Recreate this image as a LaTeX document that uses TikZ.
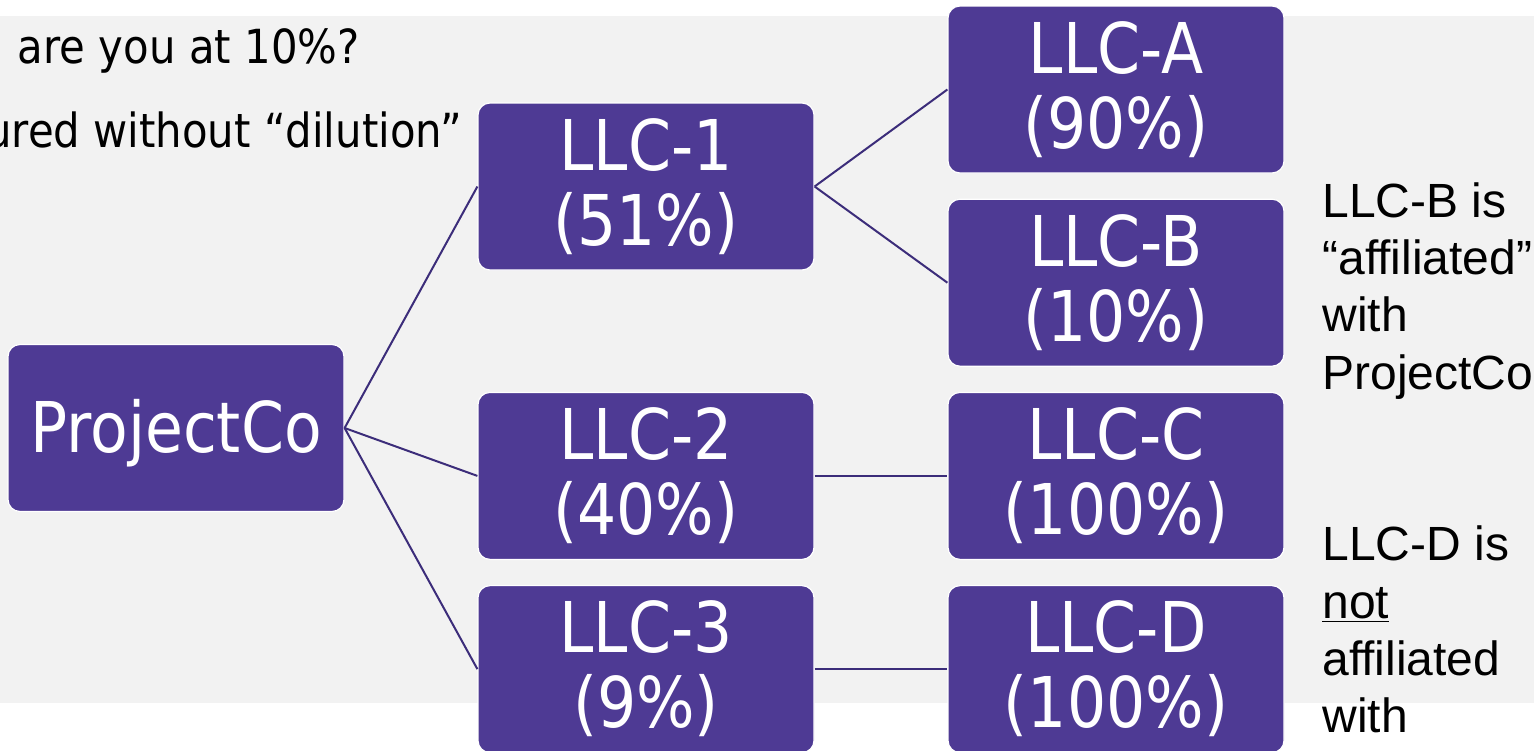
\documentclass[tikz,border=0pt]{standalone}
\usepackage{fontspec}
\setmainfont{DejaVu Sans}
\newfontfamily\boxfont[FakeStretch=0.88]{DejaVu Sans}
\newfontfamily\notefont[FakeStretch=0.89]{DejaVu Sans}
\newfontfamily\sidefont{Liberation Sans}
\usetikzlibrary{positioning}
\definecolor{boxpurple}{RGB}{78,58,148}
\definecolor{linkpurple}{RGB}{60,45,122}
\definecolor{slidegray}{RGB}{242,242,242}
\begin{document}
\begin{tikzpicture}[x=0.5pt, y=-0.5pt, node distance={12.5pt and 66.4pt},
  main/.style = {draw=white, line width=0.6pt, fill=boxpurple, rounded corners=6pt,
    minimum width=168pt, minimum height=83.5pt, inner sep=0pt, text=white, align=center,
    font=\boxfont\fontsize{35pt}{37.5pt}\selectfont, execute at begin node={\rule{0pt}{0.9em}}},
  note/.style = {inner sep=0pt, font=\notefont\fontsize{23.5pt}{28pt}\selectfont},
  link/.style = {draw=linkpurple, line width=1pt}]
\useasboundingbox (0,0) rectangle (1534,750);
\clip (0,0) rectangle (1534,750);
\fill[slidegray] (0,16) rectangle (1534,703);
\node[note, anchor=base east] (q1) at (360,63) {are you at 10\%?};
\node[note, anchor=base east] (q2) at (462,147) {ured without “dilution”};
\node[main] (pc) at (176,428) {ProjectCo};
\node[main] (la) at (1116,89.5) {LLC-A\\(90\%)};
\node[main] (lb) [below=of la] {LLC-B\\(10\%)};
\node[main] (lc) [below=of lb] {LLC-C\\(100\%)};
\node[main] (ld) [below=of lc] {LLC-D\\(100\%)};
\node[main] (l1) at (646,186.5) {LLC-1\\(51\%)};
\node[main] (l2) [left=of lc] {LLC-2\\(40\%)};
\node[main] (l3) [left=of ld] {LLC-3\\(9\%)};
\node[anchor=north west, inner sep=0pt, align=left, font=\sidefont\fontsize{24pt}{28.65pt}\selectfont] (side) at (1322,182)
  {LLC-B is\\“affiliated”\\with\\ProjectCo\\[57.3pt]LLC-D is\\\underline{not}\\affiliated\\with};
\draw[link] (pc.east) -- (l1.west);
\draw[link] (pc.east) -- (l2.west);
\draw[link] (pc.east) -- (l3.west);
\draw[link] (l1.east) -- (la.west);
\draw[link] (l1.east) -- (lb.west);
\draw[link] (l2.east) -- (lc.west);
\draw[link] (l3.east) -- (ld.west);
\end{tikzpicture}
\end{document}
